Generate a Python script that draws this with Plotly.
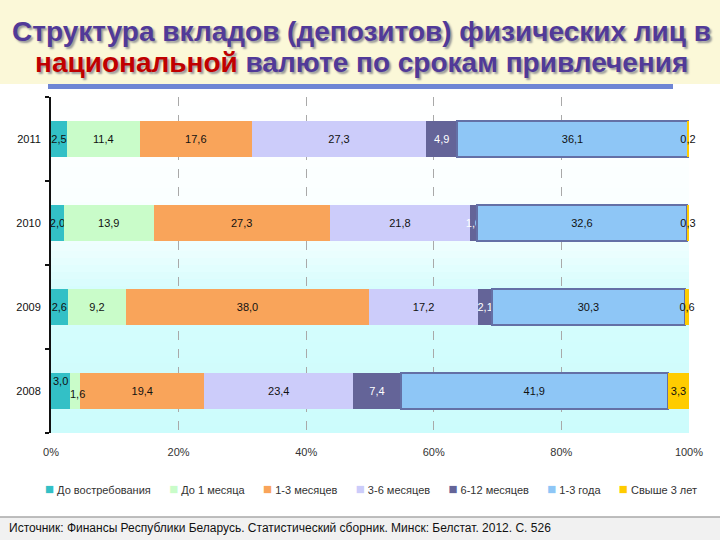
import plotly.graph_objects as go

years = ["2011", "2010", "2009", "2008"]
series_names = ["До востребования", "До 1 месяца", "1-3 месяцев", "3-6 месяцев",
                "6-12 месяцев", "1-3 года", "Свыше 3 лет"]
on_demand = [2.5, 2.0, 2.6, 3.0]
up_to_1m = [11.4, 13.9, 9.2, 1.6]
m1_3 = [17.6, 27.3, 38.0, 19.4]
m3_6 = [27.3, 21.8, 17.2, 23.4]
m6_12 = [4.9, 1.0, 2.1, 7.4]
y1_3 = [36.1, 32.6, 30.3, 41.9]
over_3y = [0.2, 0.3, 0.6, 3.3]
x_ticks = [0, 20, 40, 60, 80, 100]
x_tick_labels = ["0%", "20%", "40%", "60%", "80%", "100%"]

series_values = [on_demand, up_to_1m, m1_3, m3_6, m6_12, y1_3, over_3y]
colors = ["#33c0c6", "#c9fcc9", "#f9a45a", "#ccccfa", "#646498", "#8ec6f6", "#ffcc00"]
line_colors = [None, None, None, None, None, "#6470a6", None]
text_colors = ["#111111", "#111111", "#111111", "#111111", "#ffffff", "#111111", "#111111"]
FONT = "Liberation Sans, Arial"

def fmt(v):
    return f"{v:.1f}".replace(".", ",")

# category order bottom -> top
cat_order = ["2008", "2009", "2010", "2011"]

fig = go.Figure()
for i, (name, vals) in enumerate(zip(series_names, series_values)):
    labels = [fmt(v) for v in vals]
    if i in (0, 1):
        labels[years.index("2008")] = ""
    fig.add_trace(go.Bar(
        y=years, x=vals, name=name, orientation="h",
        marker=dict(color=colors[i],
                    line=dict(color=line_colors[i] or colors[i], width=2 if line_colors[i] else 0)),
        text=labels, texttemplate="%{text}", textposition="inside",
        insidetextanchor="middle", textangle=0, constraintext="none", cliponaxis=False,
        insidetextfont=dict(family=FONT, size=11, color=text_colors[i]),
        hoverinfo="skip",
    ))

idx08 = years.index("2008")
cat08 = cat_order.index("2008")
tot08 = sum(s[idx08] for s in series_values)
c0 = on_demand[idx08] / 2 / tot08 * 100
c1 = (on_demand[idx08] + up_to_1m[idx08] / 2) / tot08 * 100
annotations = [
    dict(x=c0, y=cat08, xref="x", yref="y", text=fmt(on_demand[idx08]), showarrow=False,
         yshift=10, font=dict(family=FONT, size=11, color="#111111")),
    dict(x=c1 + 0.3, y=cat08, xref="x", yref="y", text=fmt(up_to_1m[idx08]), showarrow=False,
         yshift=-3, font=dict(family=FONT, size=11, color="#111111")),
]

def px_x(p):
    return (p - 51) / 638

def px_y(p):
    return (433 - p) / 336

title_font = dict(family=FONT, size=28, color="#513a98", shadow="2px 2px 2px #9a9a9a")
annotations += [
    dict(x=px_x(361), xref="paper", xanchor="center", y=px_y(31), yref="paper", yanchor="middle",
         text="<b>Структура вкладов (депозитов) физических лиц в</b>", showarrow=False,
         font=title_font),
    dict(x=px_x(361), xref="paper", xanchor="center", y=px_y(63), yref="paper", yanchor="middle",
         text="<b><span style='color:#c00000'>национальной</span> валюте по срокам привлечения</b>",
         showarrow=False, font=title_font),
    dict(x=px_x(7), xref="paper", xanchor="left", y=px_y(528), yref="paper", yanchor="middle",
         text="Источник: Финансы Республики Беларусь. Статистический сборник. Минск: Белстат. 2012. С. 526",
         showarrow=False, font=dict(family=FONT, size=12, color="#111111")),
]

gap = "&nbsp;" * 6
legend_text = gap.join(
    f"<span style='color:{c};font-size:15px'>■</span>&nbsp;{n}" for n, c in zip(series_names, colors))
annotations.append(dict(x=px_x(371), xref="paper", xanchor="center", y=px_y(488), yref="paper",
                        yanchor="middle", text=legend_text, showarrow=False,
                        font=dict(family=FONT, size=11, color="#333333")))

shapes = []
shapes.append(dict(type="rect", xref="paper", yref="paper", x0=px_x(0), x1=px_x(720),
                    y0=px_y(84), y1=px_y(0), fillcolor="#fbf8d8", line=dict(width=0), layer="below"))
shapes.append(dict(type="rect", xref="paper", yref="paper", x0=px_x(48), x1=px_x(673),
                    y0=px_y(89), y1=px_y(84), fillcolor="#6f86d4", line=dict(width=0), layer="below"))
stops = [(97, (255, 255, 255)), (200, (250, 255, 255)), (250, (236, 254, 254)),
         (290, (214, 253, 253)), (433, (204, 252, 252))]
n = 48
for k in range(n):
    t0 = 97 + (433 - 97) * k / n
    t1 = 97 + (433 - 97) * (k + 1) / n
    tm = (t0 + t1) / 2
    for j in range(len(stops) - 1):
        if stops[j][0] <= tm <= stops[j + 1][0]:
            a, b = stops[j], stops[j + 1]
            f = (tm - a[0]) / (b[0] - a[0])
            col = tuple(int(round(a[1][c] + (b[1][c] - a[1][c]) * f)) for c in range(3))
            break
    shapes.append(dict(type="rect", xref="paper", yref="paper", x0=0, x1=1,
                       y0=px_y(t1), y1=px_y(t0), fillcolor="rgb(%d,%d,%d)" % col,
                       line=dict(width=0), layer="below"))
shapes.append(dict(type="rect", xref="paper", yref="paper", x0=px_x(0), x1=px_x(720),
                    y0=px_y(540), y1=px_y(517), fillcolor="#f1f1f1", line=dict(width=0), layer="below"))
shapes.append(dict(type="line", xref="paper", yref="paper", x0=px_x(0), x1=px_x(720),
                    y0=px_y(517), y1=px_y(517), line=dict(color="#a8a8a8", width=1.5), layer="below"))

fig.update_layout(
    width=720, height=540, autosize=False,
    margin=dict(l=51, r=31, t=97, b=107, pad=0),
    barmode="stack", barnorm="percent", bargap=0.58,
    paper_bgcolor="#ffffff", plot_bgcolor="rgba(0,0,0,0)",
    font=dict(family=FONT, size=11, color="#222222"),
    showlegend=False,
    shapes=shapes, annotations=annotations,
)
fig.update_xaxes(range=[0, 100.01], tickvals=x_ticks, ticktext=x_tick_labels,
                 showgrid=True, griddash="dash", gridcolor="#a9a9a9", gridwidth=1,
                 zeroline=False, showline=False, ticks="", ticklabelstandoff=11,
                 tickfont=dict(size=11, color="#333333"))
fig.update_yaxes(type="category", categoryorder="array", categoryarray=cat_order,
                 range=[-0.5, len(cat_order) - 0.5],
                 showline=True, linecolor="#111111", linewidth=2,
                 ticks="outside", tickson="boundaries", ticklen=4, tickwidth=2, tickcolor="#111111",
                 showgrid=False, tickfont=dict(size=11, color="#111111"), ticklabelstandoff=6)

fig.write_html("out.html", config={"displayModeBar": False},
               post_script="document.body.style.margin='0';")
